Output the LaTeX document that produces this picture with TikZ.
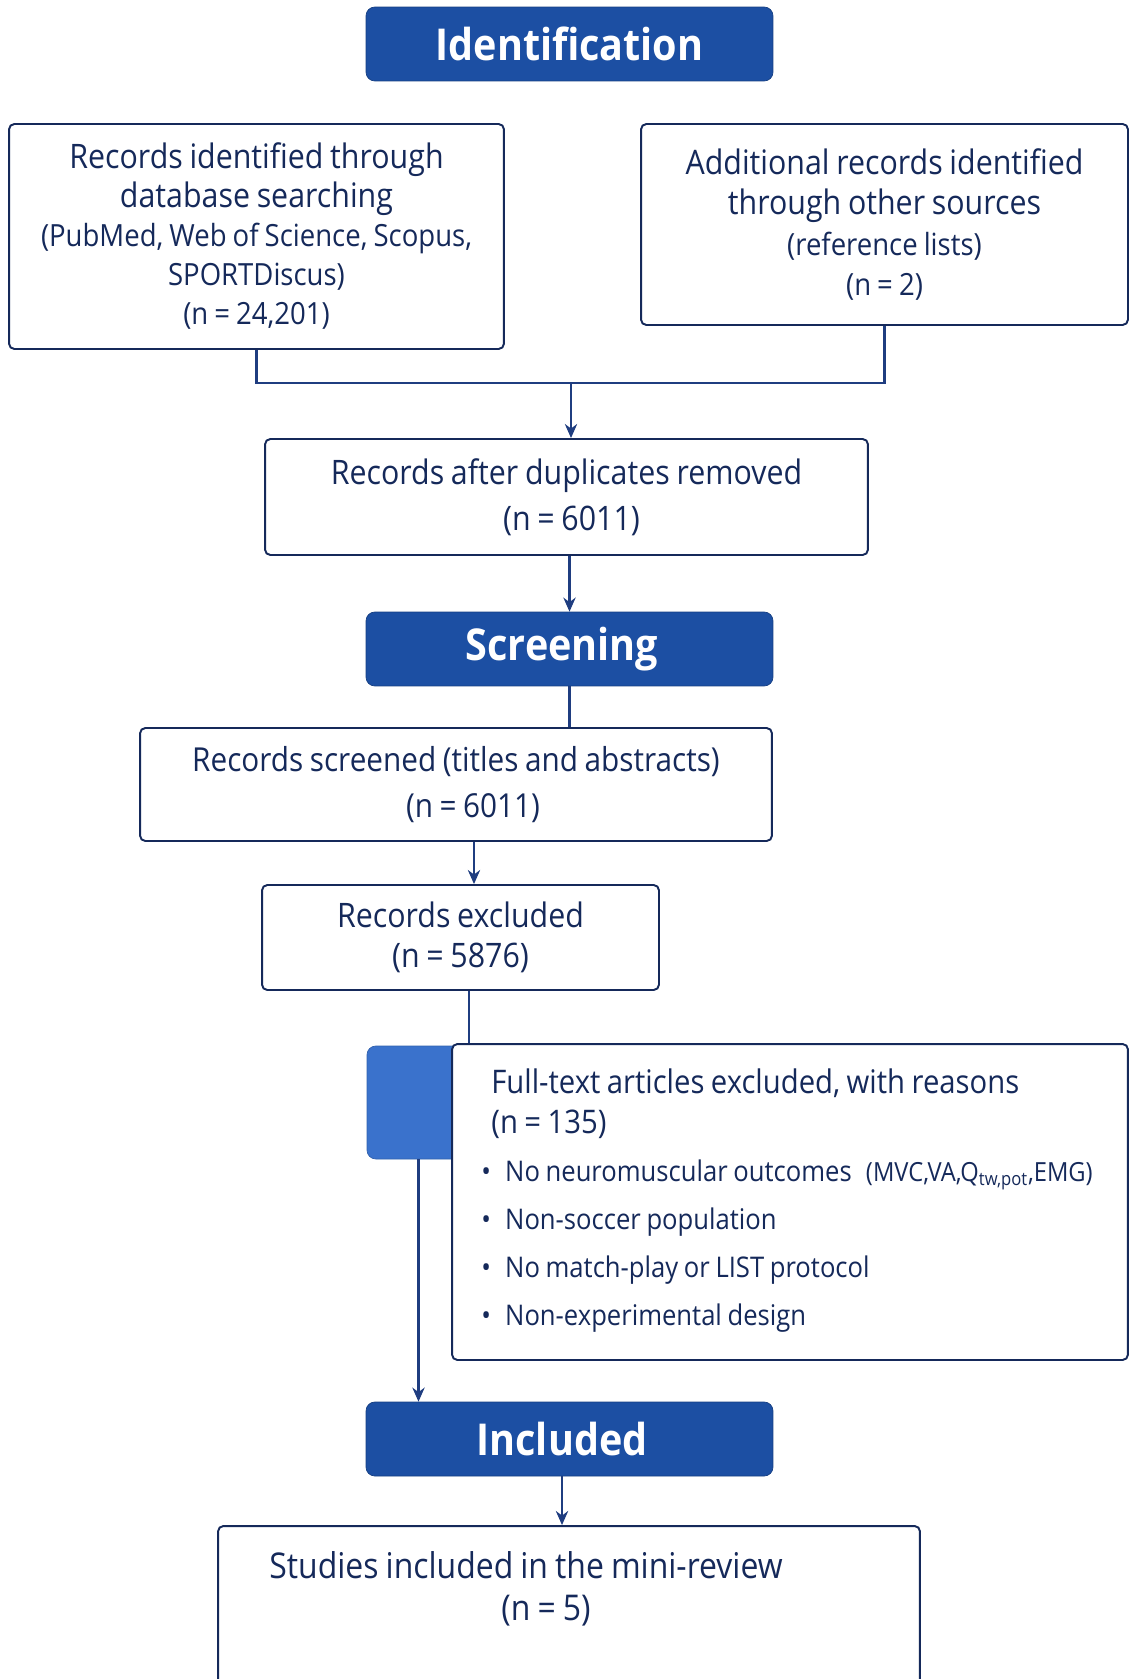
\documentclass[tikz,border=0pt]{standalone}
\usepackage{fontspec}
\setmainfont{Open Sans}[FakeStretch=0.9, WordSpace=0.85]
\usetikzlibrary{arrows.meta}

\definecolor{hdrblue}{HTML}{1C4FA3}
\definecolor{tabblue}{HTML}{3A72CC}
\definecolor{navy}{HTML}{15295A}
\definecolor{linecol}{HTML}{1F3D80}

\newcommand{\smalltxt}{\fontsize{17.4}{22.2}\selectfont}

\tikzset{
  header/.style={rectangle, rounded corners=5pt, fill=hdrblue, draw=hdrblue!80!black,
    text=white, font=\fontsize{25}{29}\selectfont\bfseries,
    minimum width=8.14cm, minimum height=1.48cm},
  box/.style={rectangle, rounded corners=3pt, draw=navy, line width=1.1pt, fill=white,
    text=navy, align=center, inner sep=0pt},
  arr/.style={-{Stealth[length=8pt,width=7pt]}, draw=linecol, line width=1.2pt},
  ln/.style={draw=linecol, line width=1.2pt}
}

\begin{document}
\begin{tikzpicture}[x=0.02cm, y=-0.02cm]
    \useasboundingbox (0,0) rectangle (1130,1679);

    \node[header] (idf) at (569.5, 44) {Identification};
    \node[box, minimum width=9.9cm, minimum height=4.5cm, font=\fontsize{19.2}{22.2}\selectfont] (db) at (256.5, 236.5)
      {Records identified through\\database searching\\{\smalltxt(PubMed, Web of Science, Scopus,}\\{\smalltxt SPORTDiscus)}\\{\smalltxt(n = 24,201)}};
    \node[box, minimum width=9.74cm, minimum height=4.02cm, font=\fontsize{19.2}{22.8}\selectfont] (oth) at (884.5, 224.5)
      {Additional records identified\\through other sources\\{\smalltxt(reference lists)}\\{\smalltxt(n = 2)}};
    \node[box, minimum width=12.06cm, minimum height=2.32cm, font=\fontsize{19.2}{26}\selectfont] (dup) at (566.5, 497)
      {Records after duplicates removed\\\hspace*{0.2cm}(n = 6011)};

    \node[header] (scr) at (569.5, 649) {\hspace*{-0.3cm}Screening};
    \node[box, minimum width=12.64cm, minimum height=2.26cm, font=\fontsize{18.8}{26}\selectfont] (rs) at (456, 784.5)
      {Records screened (titles and abstracts)\\\hspace*{0.68cm}(n = 6011)};
    \node[box, minimum width=7.94cm, minimum height=2.1cm, font=\fontsize{19.2}{23}\selectfont] (rex) at (460.5, 937.5)
      {Records excluded\\(n = 5876)};

    \node[rectangle, rounded corners=5pt, fill=tabblue, draw=tabblue!85!black,
      minimum width=2.06cm, minimum height=2.26cm] (tab) at (418.5, 1102.5) {};
    \node[box, minimum width=13.52cm, minimum height=6.32cm] (ft) at (790, 1202) {};
    \node[anchor=north west, inner sep=0pt, text=navy, align=left,
      font=\fontsize{16.2}{22.8}\selectfont] (ftt) at (491, 1068)
      {{\fontsize{18.5}{22.8}\selectfont Full-text articles excluded, with reasons}\\
       {\fontsize{18.5}{22.8}\selectfont (n = 135)}\\[5pt]
       \hspace*{-0.2cm}\textbullet\enspace No neuromuscular outcomes\enspace{\fontsize{15}{16}\selectfont(MVC,VA,Q\textsubscript{tw,pot},EMG)}\\[4.5pt]
       \hspace*{-0.2cm}\textbullet\enspace Non-soccer population\\[4.5pt]
       \hspace*{-0.2cm}\textbullet\enspace No match-play or LIST protocol\\[4.5pt]
       \hspace*{-0.2cm}\textbullet\enspace Non-experimental design};

    \node[header] (inc) at (569.5, 1439) {\hspace*{-0.3cm}Included};
    \node[box, minimum width=14.04cm, minimum height=3.48cm] (stu) at (569, 1613) {};
    \node[text=navy, font=\fontsize{20.2}{24}\selectfont] (stut) at (526, 1565) {Studies included in the mini-review};
    \node[text=navy, font=\fontsize{20.2}{24}\selectfont] (stun) at (546, 1611) {(n = 5)};

    % 矢印を引く
    \coordinate (j1) at (571, 383);
    \draw[ln] (db.south) |- (j1) -| (oth.south);
    \draw[arr] (j1) -- (j1 |- dup.north);
    \draw[arr] (scr.north |- dup.south) -- (scr.north);
    \draw[ln] (scr.south) -- (scr.south |- rs.north);
    \draw[arr] ([xshift=0.36cm]rs.south) -- ([xshift=0.36cm]rs.south |- rex.north);
    \draw[ln] ([xshift=0.17cm]rex.south) -- ([xshift=0.17cm]rex.south |- ft.north);
    \draw[arr] (tab.south) -- (tab.south |- inc.north);
    \draw[arr] ([xshift=-0.15cm]inc.south) -- ([xshift=-0.15cm]inc.south |- stu.north);
\end{tikzpicture}
\end{document}
